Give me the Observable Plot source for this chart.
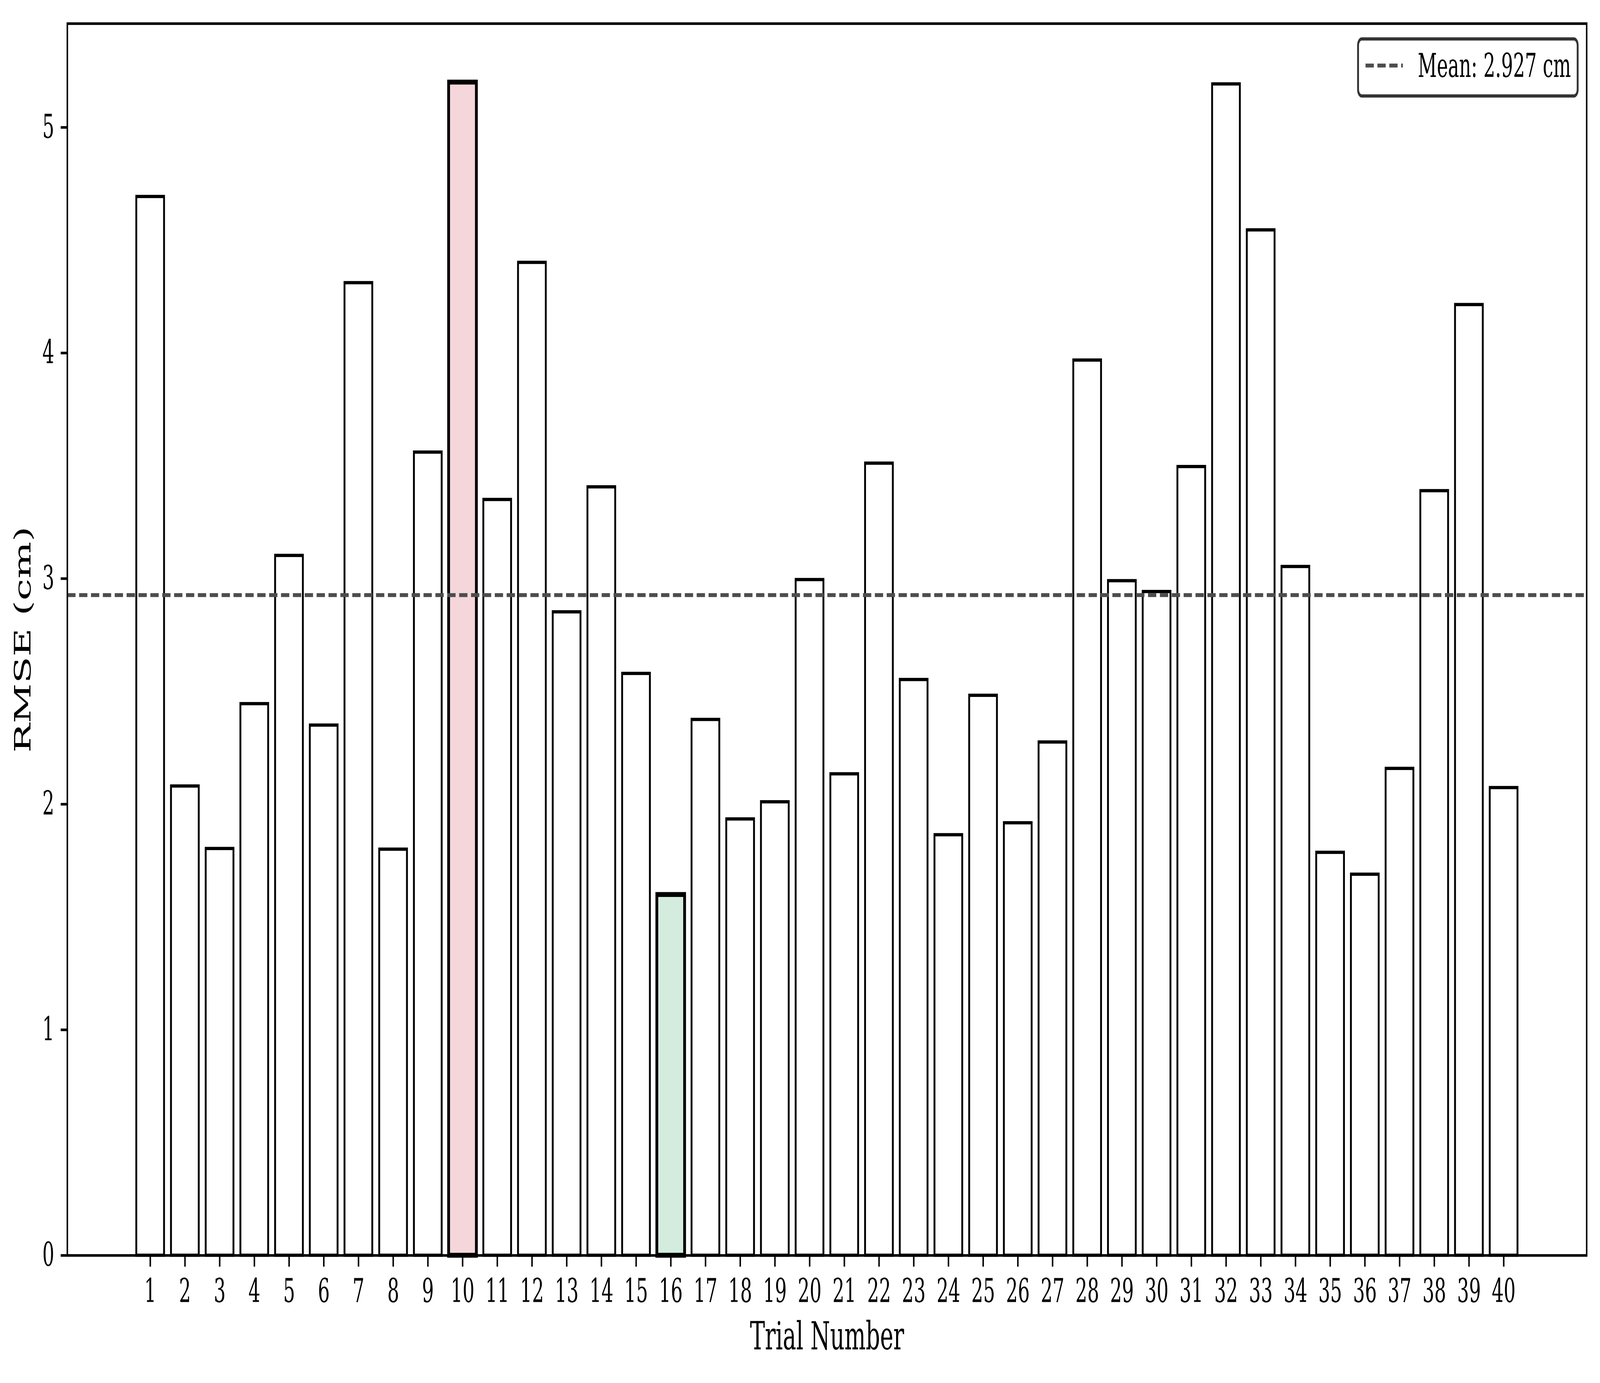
<!DOCTYPE html>
<html>
<head>
<meta charset="utf-8">
<script src="https://cdn.jsdelivr.net/npm/d3@7"></script>
<script src="https://cdn.jsdelivr.net/npm/@observablehq/plot@0.6"></script>
<style>
  html, body { margin: 0; padding: 0; background: #ffffff; overflow: hidden; }
  #chart { width: 100vw; height: 100vh; }
  #chart svg { display: block; width: 100vw; height: 100vh; max-width: none; }
</style>
</head>
<body>
<div id="chart"></div>
<script>
// ---- Data ----
const trials = [1,2,3,4,5,6,7,8,9,10,11,12,13,14,15,16,17,18,19,20,
                21,22,23,24,25,26,27,28,29,30,31,32,33,34,35,36,37,38,39,40];
const rmse = [4.693, 2.080, 1.803, 2.445, 3.102, 2.350, 4.311, 1.800, 3.560, 5.200,
              3.350, 4.401, 2.852, 3.406, 2.579, 1.599, 2.375, 1.934, 2.010, 2.995,
              2.134, 3.511, 2.552, 1.864, 2.482, 1.917, 2.275, 3.968, 2.990, 2.942,
              3.496, 5.192, 4.545, 3.053, 1.786, 1.689, 2.158, 3.389, 4.214, 2.073];
const meanValue = 2.927;
const worstTrial = 10;
const bestTrial = 16;
const yTicks = [0, 1, 2, 3, 4, 5];
const xLabel = "Trial Number";
const yLabel = "RMSE (cm)";
const legendLabel = `Mean: ${meanValue.toFixed(3)} cm`;

// ---- Styling ----
const W = 7140, H = 3540;
const pt = 600 / 72;                // px per point (600 dpi)
const FONT = "'DejaVu Serif', serif";
const worstFill = "#f5d6da";
const bestFill = "#d4ecdd";
const meanColor = "#4d4d4d";

const data = trials.map((t, i) => ({trial: t, rmse: rmse[i]}));
const normal = data.filter(d => d.trial !== worstTrial && d.trial !== bestTrial);
const worst = data.filter(d => d.trial === worstTrial);
const best = data.filter(d => d.trial === bestTrial);

const xMin = d3.min(trials) - 0.4, xMax = d3.max(trials) + 0.4;
const xPad = (xMax - xMin) * 0.05;
const yMax = d3.max(rmse) * 1.05;

const barOpts = (fill, sw) => ({
  x1: d => d.trial - 0.4,
  x2: d => d.trial + 0.4,
  y1: 0,
  y2: "rmse",
  fill,
  stroke: "black",
  strokeWidth: sw,
  strokeLinejoin: "miter"
});

const chart = Plot.plot({
  width: W,
  height: H,
  marginLeft: 300,
  marginRight: 60,
  marginTop: 60,
  marginBottom: 327,
  style: {fontFamily: FONT, background: "#ffffff", color: "black", overflow: "visible"},
  x: {type: "linear", domain: [xMin - xPad, xMax + xPad]},
  y: {type: "linear", domain: [0, yMax]},
  marks: [
    Plot.rect(normal, barOpts("white", 1.0 * pt)),
    Plot.rect(worst, barOpts(worstFill, 1.5 * pt)),
    Plot.rect(best, barOpts(bestFill, 1.5 * pt)),
    Plot.ruleY([meanValue], {stroke: meanColor, strokeWidth: 1.2 * pt,
      strokeDasharray: `${3.7 * 1.2 * pt},${1.6 * 1.2 * pt}`}),
    Plot.axisX({ticks: trials, tickFormat: d => String(d), tickSize: 3.5 * pt,
      tickPadding: 3.5 * pt + 2, strokeWidth: 0.8 * pt, fontSize: 10 * pt, label: null}),
    Plot.axisY({ticks: yTicks, tickFormat: d => String(d), tickSize: 3.5 * pt,
      tickPadding: 3.5 * pt, strokeWidth: 0.8 * pt, fontSize: 10 * pt, label: null}),
    Plot.frame({stroke: "black", strokeWidth: 0.8 * pt}),
    Plot.text([xLabel], {frameAnchor: "bottom", textAnchor: "middle", lineAnchor: "bottom", dy: 240,
      fontSize: 12 * pt, fill: "black"}),
    Plot.text([yLabel], {frameAnchor: "left", textAnchor: "middle", lineAnchor: "bottom", rotate: -90, dx: -165,
      fontSize: 12 * pt, fill: "black"})
  ]
});

// The drawing is laid out on a 7140x3540 canvas; it is fitted to the window.
chart.setAttribute("viewBox", `0 0 ${W} ${H}`);
chart.setAttribute("preserveAspectRatio", "none");
document.getElementById("chart").appendChild(chart);

// ---- Legend (inside axes, upper right) ----
const xs = chart.scale("x").range;
const ys = chart.scale("y").range;
const frameRight = Math.max(...xs);
const frameTop = Math.min(...ys);
const fs = 10 * pt;
const svg = d3.select(chart);
const lg = svg.append("g").attr("class", "legend").attr("text-anchor", "start");
const boxRight = frameRight - 0.5 * fs + 2;
const boxTop = frameTop + 0.5 * fs - 2;
const boxW = 980, boxH = 146;
const boxLeft = boxRight - boxW;
lg.append("rect")
  .attr("x", boxLeft).attr("y", boxTop)
  .attr("width", boxW).attr("height", boxH)
  .attr("rx", 0.2 * fs).attr("ry", 0.2 * fs)
  .attr("fill", "white").attr("fill-opacity", 0.8)
  .attr("stroke", "black").attr("stroke-opacity", 0.8)
  .attr("stroke-width", 1.0 * pt);
const handleX1 = boxLeft + 0.4 * fs;
const handleX2 = handleX1 + 2.0 * fs;
const rowY = boxTop + 68;
lg.append("line")
  .attr("x1", handleX1).attr("x2", handleX2)
  .attr("y1", rowY).attr("y2", rowY)
  .attr("stroke", meanColor).attr("stroke-width", 1.2 * pt)
  .attr("stroke-dasharray", `${3.7 * 1.2 * pt},${1.6 * 1.2 * pt}`);
lg.append("text")
  .attr("x", handleX2 + 0.8 * fs).attr("y", rowY + 29)
  .attr("text-anchor", "start")
  .attr("font-family", FONT).attr("font-size", fs)
  .attr("fill", "black")
  .text(legendLabel);
</script>
</body>
</html>
